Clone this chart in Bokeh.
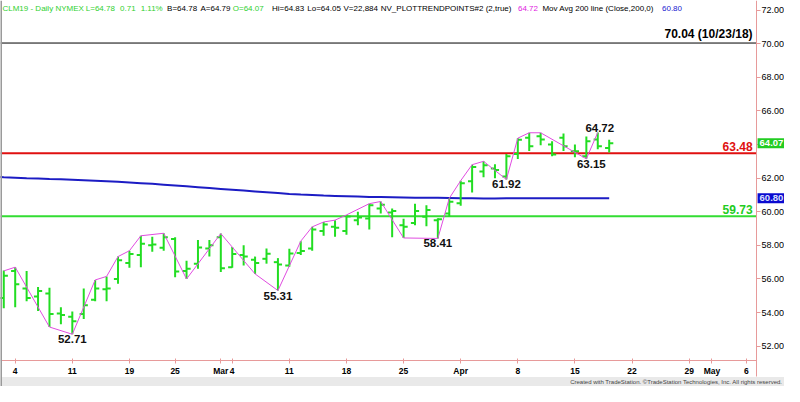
from bokeh.plotting import figure
from bokeh.models import Range1d, FixedTicker, Label, Span, ColumnDataSource, BoxAnnotation
from bokeh.transform import dodge
from bokeh.embed import file_html
from bokeh.resources import INLINE
from bokeh.core.properties import value

# ---------------- data ----------------
# trading-day index: 0 = Feb 4 2019
bar_idx = list(range(-1, 53))
opens = [54.86, 56.48, 55.43, 54.95, 55.14, 53.95, 53.75, 53.91, 54.76, 55.39,
         56.00, 56.95, 57.43, 58.00, 57.85, 58.38, 56.48, 56.91, 57.81, 58.48,
         56.70, 57.43, 57.14, 57.20, 57.00, 56.80, 57.55, 57.81, 58.86, 59.10,
         58.86, 59.50, 59.60, 60.19, 59.95, 59.20, 59.33, 59.70, 59.50, 59.90,
         60.50, 61.81, 62.40, 62.57, 62.10, 63.43, 64.40, 64.50, 64.00, 64.40,
         63.60, 63.30, 64.30, 63.80]
highs = [56.50, 56.70, 56.48, 55.52, 55.47, 54.32, 54.06, 55.43, 55.94, 56.15,
         57.33, 57.68, 58.57, 58.51, 58.72, 58.48, 57.09, 58.32, 58.32, 58.70,
         57.90, 58.00, 57.33, 57.81, 57.24, 57.80, 58.25, 59.10, 59.39, 59.50,
         59.81, 60.00, 60.48, 60.61, 60.19, 59.58, 60.48, 60.38, 59.62, 60.80,
         61.85, 62.80, 63.00, 62.82, 63.43, 64.38, 64.70, 64.70, 64.20, 64.66,
         64.00, 64.48, 64.72, 64.29]
lows = [54.25, 54.32, 54.67, 54.10, 53.14, 53.30, 52.71, 53.62, 54.67, 54.67,
        55.71, 56.67, 56.70, 57.62, 57.68, 56.10, 56.00, 56.61, 57.33, 56.42,
        56.67, 56.80, 56.30, 56.91, 55.31, 56.73, 57.43, 57.68, 58.57, 58.51,
        58.63, 59.20, 58.95, 59.90, 58.48, 58.44, 59.20, 59.14, 58.41, 59.71,
        60.35, 61.14, 62.06, 62.00, 61.92, 63.14, 63.62, 63.96, 63.30, 63.62,
        63.24, 63.15, 63.72, 63.52]
closes = [56.19, 55.68, 54.86, 55.28, 53.91, 53.85, 53.49, 54.44, 55.43, 55.43,
          57.11, 57.49, 58.10, 58.05, 58.48, 56.44, 56.61, 57.87, 58.00, 56.63,
          57.49, 57.33, 56.95, 57.50, 56.86, 57.52, 57.67, 58.95, 59.24, 59.05,
          59.71, 59.66, 60.38, 60.42, 60.04, 59.10, 60.04, 60.10, 59.55, 60.60,
          61.70, 62.67, 62.76, 62.48, 63.30, 64.29, 63.90, 64.30, 63.40, 63.90,
          63.60, 64.20, 63.90, 64.07]

ma_idx = list(range(-2, 53))
ma_vals = [62.10, 62.06, 62.03, 62.00, 61.98, 61.95, 61.93, 61.90, 61.87, 61.84,
           61.81, 61.78, 61.74, 61.70, 61.66, 61.61, 61.56, 61.51, 61.46, 61.41,
           61.36, 61.31, 61.26, 61.21, 61.16, 61.11, 61.06, 61.02, 60.99, 60.96,
           60.94, 60.92, 60.90, 60.88, 60.87, 60.86, 60.85, 60.84, 60.84, 60.83,
           60.82, 60.81, 60.80, 60.79, 60.79, 60.80, 60.80, 60.81, 60.81, 60.81,
           60.81, 60.81, 60.80, 60.80, 60.80]

pivot_idx = [-1, 0, 3, 5, 7, 8, 9, 10, 11, 13, 15, 18, 21, 23, 25, 26, 27, 28, 29,
             31, 32, 34, 37, 38, 39, 40, 41, 43, 44, 45, 46, 50, 51]
pivot_vals = [56.48, 56.70, 53.14, 52.71, 55.94, 56.15, 57.33, 57.68, 58.57, 58.72,
              56.00, 58.70, 56.30, 55.31, 58.25, 59.10, 59.39, 59.50, 59.81, 60.48,
              60.61, 58.44, 58.41, 60.80, 61.85, 62.80, 63.00, 61.92, 64.38, 64.70,
              64.70, 63.15, 64.72]

low_label_idx = [5, 23, 37, 43, 50]
low_label_vals = [52.71, 55.31, 58.41, 61.92, 63.15]
high_label_idx = [51]
high_label_vals = [64.72]

level_vals = [70.04, 63.48, 59.73]
level_texts = ["70.04 (10/23/18)", "63.48", "59.73"]
last_close = 64.07
ma_last = 60.80

x_tick_idx = [0, 5, 10, 14, 18, 19, 24, 29, 34, 39, 44, 49, 54, 59, 61, 64]
x_tick_labels = ["4", "11", "19", "25", "Mar", "4", "11", "18", "25", "Apr",
                 "8", "15", "22", "29", "May", "6"]
y_ticks = [52, 54, 56, 58, 60, 62, 64, 66, 68, 70, 72]
y_tick_labels = ["52.00", "54.00", "56.00", "58.00", "60.00", "62.00", "64.00",
                 "66.00", "68.00", "70.00", "72.00"]

header = [("CLM19 - Daily", "#2fd02f", 2), ("NYMEX", "#2fd02f", 56),
          ("L=64.78", "#2fd02f", 87), ("0.71", "#2fd02f", 122), ("1.11%", "#2fd02f", 143),
          ("B=64.78", "black", 170), ("A=64.79", "black", 204),
          ("O=64.07", "#2fd02f", 237), ("Hi=64.83", "black", 277),
          ("Lo=64.05", "black", 313), ("V=22,884", "black", 350),
          ("NV_PLOTTRENDPOINTS#2 (2,true)", "black", 388), ("64.72", "#e020e0", 528),
          ("Mov Avg 200 line (Close,200,0)", "black", 553), ("60.80", "#2020d0", 675)]

# ---------------- style ----------------
GREEN = "#22dd22"
PINK = "#e79a9a"
FONT = "Liberation Sans"


def xr(px):  # reference pixel -> index units (for placement)
    return (px - 15) / 11.656


def yr(py):
    return 72 - (py - 10) / 17.5


X0, X1 = xr(0), xr(800)
Y0, Y1 = yr(402), yr(0)
XA = xr(771.5)   # price axis position
YA = yr(375)     # time axis position
YS = yr(392)     # top of bottom strip

p = figure(width=784, height=386, x_range=Range1d(X0, X1), y_range=Range1d(Y0, Y1),
           output_backend="svg", toolbar_location=None, y_axis_location="right",
           min_border_left=0, min_border_right=0, min_border_top=0, min_border_bottom=0)
p.outline_line_color = None
p.xgrid.grid_line_color = None
p.ygrid.grid_line_color = None
p.background_fill_color = "white"
p.border_fill_color = "white"

# bottom strip
p.add_layout(BoxAnnotation(left=X0, right=X1, bottom=Y0, top=YS,
                           fill_color="#e9e9e9", fill_alpha=1, line_color=None, level="underlay"))

# axes
p.xaxis.fixed_location = YA
p.xaxis.bounds = (X0, XA)
p.xaxis.ticker = FixedTicker(ticks=x_tick_idx)
p.xaxis.major_label_overrides = {t: s for t, s in zip(x_tick_idx, x_tick_labels)}
p.xaxis.axis_line_color = PINK
p.xaxis.major_tick_line_color = PINK
p.xaxis.major_tick_in = 2
p.xaxis.major_tick_out = 3
p.xaxis.minor_tick_line_color = None
p.xaxis.major_label_standoff = 2
p.xaxis.major_label_text_font = FONT
p.xaxis.major_label_text_font_style = "bold"
p.xaxis.major_label_text_font_size = "8.5px"
p.xaxis.major_label_text_color = "black"

p.yaxis.fixed_location = XA
p.yaxis.bounds = (YS, Y1)
p.yaxis.ticker = FixedTicker(ticks=y_ticks)
p.yaxis.major_label_overrides = {t: s for t, s in zip(y_ticks, y_tick_labels)}
p.yaxis.axis_line_color = PINK
p.yaxis.major_tick_line_color = PINK
p.yaxis.major_tick_in = 0
p.yaxis.major_tick_out = 4
p.yaxis.minor_tick_line_color = None
p.yaxis.major_label_standoff = 1
p.yaxis.major_label_text_font = FONT
p.yaxis.major_label_text_font_size = "9px"
p.yaxis.major_label_text_color = "black"

# left border
p.add_layout(Span(location=X0, dimension="height", line_color="#9a9a9a", line_width=3))

# level lines
p.segment(x0=[X0] * 3, y0=level_vals, x1=[XA] * 3, y1=level_vals,
          line_color=["black", "#e01010", "#33dd33"], line_width=[1, 2, 2])

# moving average
p.line(ma_idx, ma_vals, line_color="#1c1cc4", line_width=2)

# OHLC bars
src = ColumnDataSource(dict(i=bar_idx, o=opens, h=highs, l=lows, c=closes))
p.segment(x0="i", y0="l", x1="i", y1="h", source=src, line_color=GREEN, line_width=2)
p.segment(x0=dodge("i", -0.36), y0="o", x1="i", y1="o", source=src, line_color=GREEN, line_width=2)
p.segment(x0="i", y0="c", x1=dodge("i", 0.36), y1="c", source=src, line_color=GREEN, line_width=2)

# trend points line
p.line(pivot_idx, pivot_vals, line_color="#e04ce0", line_width=1)

# trend point labels
p.text(x=low_label_idx, y=low_label_vals, text=[f"{v:.2f}" for v in low_label_vals],
       text_align="center", text_baseline="top", y_offset=1, x_offset=[0, 0, 0, 0, 5],
       text_font=value(FONT), text_font_style="bold", text_font_size="11.5px", text_color="#111111")
p.text(x=high_label_idx, y=high_label_vals, text=[f"{v:.2f}" for v in high_label_vals],
       text_align="center", text_baseline="bottom", y_offset=0, x_offset=2,
       text_font=value(FONT), text_font_style="bold", text_font_size="11.5px", text_color="#111111")

# level labels
for lvl, txt, col in zip(level_vals, level_texts, ["black", "#e01010", "#22cc22"]):
    p.add_layout(Label(x=XA, y=lvl, text=txt, text_align="right", text_baseline="bottom",
                       x_offset=-4, y_offset=2, text_font=FONT, text_font_style="bold",
                       text_font_size="12px", text_color=col))

# price boxes on the right axis
p.add_layout(Label(x=XA, y=last_close, text=f"{last_close:.2f}", text_align="left",
                   text_baseline="middle", x_offset=1, text_font=FONT, text_font_style="bold",
                   text_font_size="9.5px", text_color="white",
                   background_fill_color="#22cc22", padding=2))
p.add_layout(Label(x=XA, y=ma_last, text=f"{ma_last:.2f}", text_align="left",
                   text_baseline="middle", x_offset=1, text_font=FONT, text_font_style="bold",
                   text_font_size="9.5px", text_color="#dde0ff",
                   background_fill_color="#0a0ad0", padding=2))

# header
for txt, col, px in header:
    p.add_layout(Label(x=xr(px), y=yr(8), text=txt, text_align="left", text_baseline="middle",
                       text_font=FONT, text_font_size="8px", text_color=col))

# footer
p.add_layout(Label(x=xr(798), y=yr(397), text="Created with TradeStation. \u00a9TradeStation Technologies, Inc. All rights reserved.",
                   text_align="right", text_baseline="middle", text_font=FONT,
                   text_font_size="6px", text_color="#444444"))

open("out.html", "w").write(file_html(p, INLINE))
